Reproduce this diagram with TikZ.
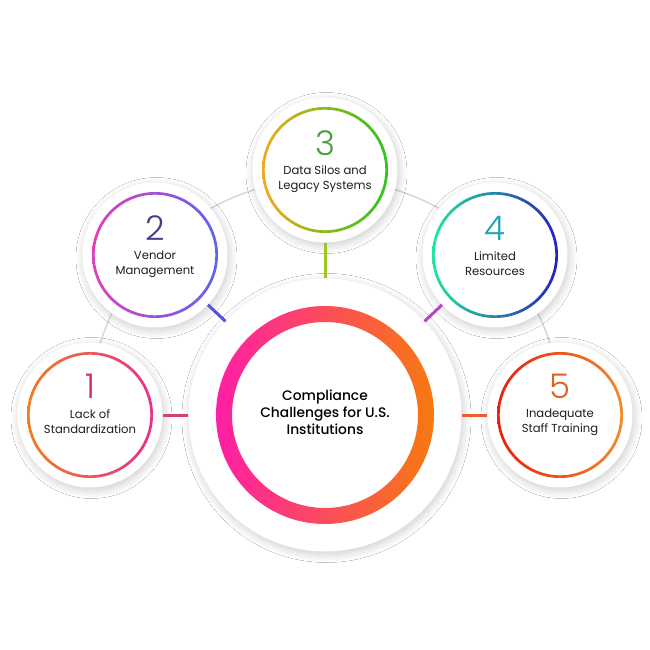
\documentclass[tikz,border=0pt]{standalone}
\usepackage{fontspec}
\setmainfont{Poppins}
\newfontfamily\numfont{Poppins Light}
\newfontfamily\medfont{Poppins Medium}
\usetikzlibrary{shadows.blur,backgrounds}
\definecolor{arcgray}{HTML}{D4D4E2}
\definecolor{txt}{HTML}{1E1E1E}
\definecolor{rA1}{HTML}{F57C1F}\definecolor{rB1}{HTML}{E6308F}\definecolor{n1}{HTML}{D42A5E}
\definecolor{rA2}{HTML}{E040B8}\definecolor{rB2}{HTML}{5F63EE}\definecolor{n2}{HTML}{4B3A8C}
\definecolor{rA3}{HTML}{F2A91D}\definecolor{rB3}{HTML}{2CC71C}\definecolor{n3}{HTML}{4A9C3E}
\definecolor{rA4}{HTML}{1DE89A}\definecolor{rB4}{HTML}{2A1FC0}\definecolor{n4}{HTML}{1FA3B5}
\definecolor{rA5}{HTML}{E8200E}\definecolor{rB5}{HTML}{F28A2A}\definecolor{n5}{HTML}{E0621E}
\definecolor{rAc}{HTML}{FF1FA5}\definecolor{rBc}{HTML}{F77A0F}
\definecolor{k1}{HTML}{DB3A80}\definecolor{k2}{HTML}{5A52D8}\definecolor{k3}{HTML}{9AC820}
\definecolor{k4}{HTML}{C040C8}\definecolor{k5}{HTML}{E8602A}
\tikzset{
  disk/.style={circle, fill=white, draw=none, inner sep=0pt,
    blur shadow={shadow xshift=1.5pt, shadow yshift=-3pt, shadow blur radius=8pt, shadow opacity=20, shadow blur steps=12}},
  small/.style={disk, minimum size=145pt},
  big/.style={disk, minimum size=273pt},
  conn/.style={line width=3pt},
  arcline/.style={draw=arcgray, line width=1.4pt},
  numtxt/.style={font=\numfont\fontsize{34}{36}\selectfont, inner sep=0pt},
  lbl/.style={font=\fontsize{11.6}{14.8}\selectfont, text=txt, align=center, inner sep=0pt},
  ctrlbl/.style={font=\medfont\fontsize{13.8}{17}\selectfont, text=black, align=center, inner sep=0pt}
}
\begin{document}
\begin{tikzpicture}[x=1pt,y=-1pt]
\useasboundingbox (0,0) rectangle (650,650);
\fill[white] (0,0) rectangle (650,650);
\coordinate (O) at (325,415);
% gray arc behind the circles
\draw[arcline] (O) ++(180:236pt) arc[start angle=180, end angle=0, radius=236pt];
% discs
\node[big] (ctr) at (O) {};
\node[small] (s1) at (90,415) {};
\node[small] (s2) at (155,255) {};
\node[small] (s3) at (325,170) {};
\node[small] (s4) at (495,255) {};
\node[small] (s5) at (560,415) {};
% connectors
\draw[conn, k1] (s1) -- (ctr);
\draw[conn, k2] (s2) -- (ctr);
\draw[conn, k3] (s3) -- (ctr);
\draw[conn, k4] (s4) -- (ctr);
\draw[conn, k5] (s5) -- (ctr);
% rings
\shade[left color=rAc, right color=rBc, even odd rule] (ctr.center) circle (109pt) (ctr.center) circle (93pt);
\shade[left color=rA1, right color=rB1, even odd rule] (s1.center) circle (63pt) (s1.center) circle (60.3pt);
\shade[left color=rA2, right color=rB2, even odd rule] (s2.center) circle (63pt) (s2.center) circle (60.3pt);
\shade[left color=rA3, right color=rB3, even odd rule] (s3.center) circle (63pt) (s3.center) circle (60.3pt);
\shade[left color=rA4, right color=rB4, even odd rule] (s4.center) circle (63pt) (s4.center) circle (60.3pt);
\shade[left color=rA5, right color=rB5, even odd rule] (s5.center) circle (63pt) (s5.center) circle (60.3pt);
% texts
\node[ctrlbl] (tc) at (325,412) {Compliance\\Challenges for U.S.\\Institutions};
\node[numtxt, text=n1] (d1) at (90,386) {1};
\node[lbl] (t1) at (90,422) {Lack of\\Standardization};
\node[numtxt, text=n2] (d2) at (155,228) {2};
\node[lbl] (t2) at (155,264) {Vendor\\Management};
\node[numtxt, text=n3] (d3) at (325,143) {3};
\node[lbl] (t3) at (325,179) {Data Silos and\\Legacy Systems};
\node[numtxt, text=n4] (d4) at (495,228) {4};
\node[lbl] (t4) at (495,264) {Limited\\Resources};
\node[numtxt, text=n5] (d5) at (560,386) {5};
\node[lbl] (t5) at (560,422) {Inadequate\\Staff Training};
\end{tikzpicture}
\end{document}
